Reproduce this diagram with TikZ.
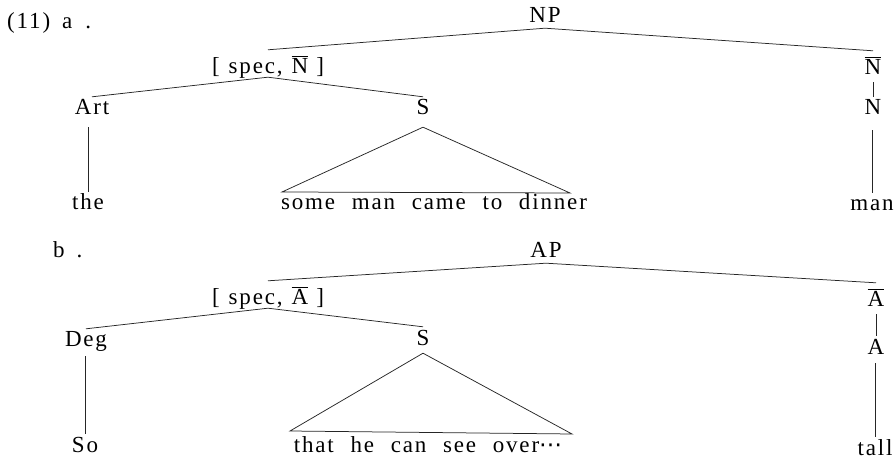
\documentclass[tikz,border=0pt]{standalone}
\usepackage{fontspec}
\setmainfont{Liberation Serif}[LetterSpace=8,WordSpace={2.2}]
\newfontfamily\dvsans{DejaVu Sans}
\newcommand\barred[1]{\vbox{\hrule height 0.8pt\kern 2.5pt\hbox{#1}}}
\tikzset{
  lab/.style={anchor=base, inner xsep=0pt, inner ysep=3pt, text height=15pt, text depth=2pt, font=\fontsize{23}{26}\selectfont, text=black},
  speclab/.style={lab, text height=21pt, text depth=0pt},
  barlab/.style={lab, text height=21pt, text depth=4pt},
  free/.style={anchor=base west, inner sep=0pt, font=\fontsize{23}{26}\selectfont, text=black},
  edge/.style={line width=0.75pt, draw=black!85},
}
\begin{document}
\begin{tikzpicture}[x=1pt,y=-1pt]
\useasboundingbox (0,0) rectangle (895,465);
% ---------- (11) a.
\node[free] (la) at (7,29) {(11)\hspace{12pt}a\hspace{13pt}.};
\node[lab] (NP) at (545,23) {NP};
\node[speclab] (specN) at (268,74) {[\hspace{9pt}spec,\hspace{9pt}\barred{N}\hspace{8pt}]};
\node[barlab] (Nbar) at (873,75) {\barred{N}};
\node[lab] (Art) at (92,115) {Art};
\node[lab] (S1) at (423,115) {S};
\node[lab] (N) at (873,115) {N};
\node[lab] (the) at (88,210) {the};
\node[lab] (txt1) at (434,210) {some man came to dinner};
\node[lab] (man) at (872,211) {man};
\coordinate (t1l) at (282,192);
\coordinate (t1r) at (570,193);

\draw[edge] (specN.north) -- (NP.south) -- (Nbar.north);
\draw[edge] (Art.north) -- (specN.south) -- (S1.north);
\draw[edge] (Nbar.south) -- (N.north);
\draw[edge, shorten <=7pt] (the.north |- Art.south) -- (the.north);
\draw[edge, shorten <=10pt] (man.north |- N.south) -- (man.north);
\draw[edge] ([yshift=-7pt]S1.south) -- (t1l) -- (t1r) -- cycle;

% ---------- b.
\node[free] (lb) at (53,258) {b\hspace{12pt}.};
\node[lab] (AP) at (546,258) {AP};
\node[speclab] (specA) at (268,305) {[\hspace{9pt}spec,\hspace{9pt}\barred{A}\hspace{8pt}]};
\node[barlab] (Abar) at (876,307) {\barred{A}};
\node[lab] (Deg) at (86,347) {Deg};
\node[lab] (S2) at (423,345) {S};
\node[lab] (A) at (876,354) {A};
\node[lab] (So) at (85,452) {So};
\node[lab] (txt2) at (428,452) {that he can see over{\dvsans ⋯}};
\node[lab] (tall) at (875,455) {tall};
\coordinate (t2l) at (290,431);
\coordinate (t2r) at (572,434);

\draw[edge] (specA.north) -- (AP.south) -- (Abar.north);
\draw[edge] (Deg.north) -- (specA.south) -- (S2.north);
\draw[edge] (Abar.south) -- (A.north);
\draw[edge, shorten <=4pt] (So.north |- Deg.south) -- (So.north);
\draw[edge, shorten <=4pt] (tall.north |- A.south) -- (tall.north);
\draw[edge] ([yshift=-3pt]S2.south) -- (t2l) -- (t2r) -- cycle;
\end{tikzpicture}
\end{document}
